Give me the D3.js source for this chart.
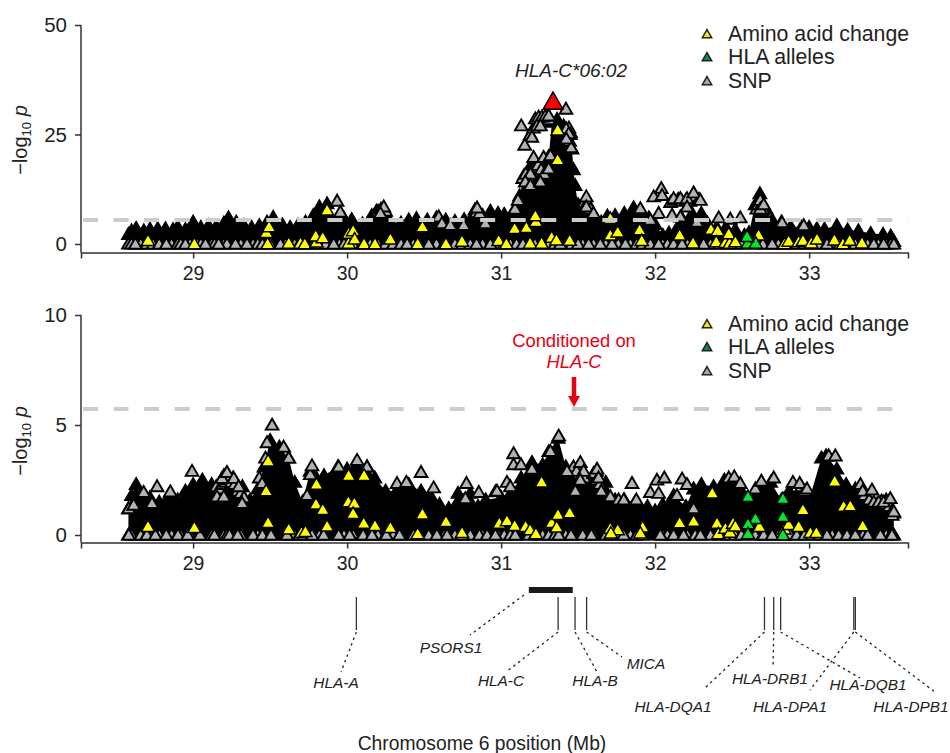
<!DOCTYPE html>
<html><head><meta charset="utf-8">
<script src="https://cdn.jsdelivr.net/npm/d3@7"></script>
<style>html,body{margin:0;background:#fff}svg{display:block}text{font-family:"Liberation Sans",Arial,sans-serif;fill:#222}</style>
</head><body><svg id="c" width="950" height="753"></svg>
<script>
const xTicks=[29,30,31,32,33];
const topYTicks=[0,25,50], bottomYTicks=[0,5,10];
const topThreshold=5.5, bottomThreshold=5.73;
const legendLabels=["Amino acid change","HLA alleles","SNP"];

// upper edge of the solid overlapped marker mass: position (Mb), -log10 p
const topMassMb=[28.58,28.60,28.63,28.68,28.72,28.77,28.82,28.87,28.90,28.95,29.00,29.05,29.10,29.15,29.20,29.23,29.28,29.33,29.38,29.43,29.48,29.52,29.58,29.63,29.68,29.73,29.78,29.82,29.87,29.93,29.98,30.03,30.10,30.16,30.19,30.24,30.28,30.35,30.40,30.45,30.52,30.58,30.64,30.70,30.76,30.83,30.88,30.93,30.98,31.02,31.08,31.12,31.15,31.18,31.21,31.265,31.309,31.33,31.363,31.406,31.45,31.46,31.47,31.48,31.50,31.52,31.56,31.60,31.65,31.69,31.74,31.80,31.86,31.91,31.96,32.00,32.05,32.09,32.14,32.18,32.24,32.30,32.34,32.40,32.46,32.52,32.58,32.61,32.65,32.68,32.72,32.76,32.82,32.88,32.95,33.00,33.05,33.10,33.18,33.25,33.32,33.40,33.48,33.53,33.55];
const topMassP=[2.2,3.0,3.6,3.0,3.4,3.5,3.5,3.3,3.9,3.3,5.0,3.8,4.2,4.0,4.8,6.0,5.0,4.2,3.8,4.2,5.0,6.1,4.4,3.8,4.3,5.0,6.5,8.5,9.2,5.5,5.8,5.6,4.6,6.5,7.5,7.0,5.0,4.8,5.5,5.8,5.5,6.0,5.5,5.2,5.6,7.8,6.5,7.5,7.0,6.8,7.5,11,15.7,17,19,18.7,20,27.8,28.5,27,25.5,21.7,17,13.4,9,7,8,6.5,5.0,6.4,6.5,7,8.3,7.6,6.0,4.5,2.0,2.5,3.5,5.5,7,7,4.8,3.8,3.8,3.3,2.0,2.6,9,11.5,8,5.5,5.0,4.0,3.8,3.8,3.5,3.4,4.2,3.2,3.0,2.4,2.2,1.8,0.6];
const bottomMassMb=[28.58,28.60,28.63,28.66,28.72,28.78,28.85,28.90,28.95,29.00,29.06,29.12,29.20,29.26,29.32,29.37,29.42,29.46,29.50,29.56,29.62,29.66,29.71,29.76,29.80,29.85,29.94,30.00,30.06,30.13,30.18,30.25,30.32,30.40,30.48,30.54,30.60,30.66,30.72,30.80,30.85,30.90,31.00,31.07,31.13,31.20,31.27,31.31,31.37,31.42,31.46,31.50,31.55,31.62,31.68,31.74,31.80,31.87,31.95,32.00,32.05,32.12,32.20,32.25,32.30,32.38,32.45,32.51,32.56,32.60,32.68,32.75,32.82,32.87,32.95,33.00,33.08,33.11,33.18,33.24,33.30,33.38,33.44,33.50,33.55];
const bottomMassP=[1.2,1.8,2.3,1.8,1.7,1.5,1.9,1.6,2.0,2.3,2.5,2.3,2.7,2.6,2.2,1.6,2.1,3.1,4.3,4.0,3.5,2.4,1.5,2.9,2.6,2.7,3.1,3.0,3.2,3.1,2.6,2.0,2.0,2.3,2.0,1.8,1.4,1.2,1.9,1.9,1.3,1.6,1.7,2.0,2.6,3.3,3.2,3.8,4.4,3.1,2.5,2.4,2.3,2.9,2.4,1.6,1.6,1.5,1.3,1.1,1.4,1.8,1.3,2.1,2.3,2.2,2.5,2.5,2.0,1.7,2.1,2.4,1.6,2.0,2.0,1.6,3.5,3.6,3.0,2.3,2.1,1.7,1.4,1.6,1.0];

// SNPs near p = 0, partly hidden by their neighbours
const snpRowHiddenMb=[28.58,28.60,28.66,28.70,28.74,28.78,28.86,28.90,28.92,28.98,29.03,29.05,29.12,29.14,29.20,29.22,29.31,29.39,29.42,29.45,29.50,29.60,29.63,29.66,29.69,29.72,29.78,29.82,29.86,29.95,29.98,30.04,30.10,30.15,30.20,30.25,30.30,30.35,30.43,30.47,30.58,30.63,30.70,30.75,30.80,30.88,30.98,31.02,31.06,31.10,31.18,31.22,31.27,31.31,31.35,31.42,31.46,31.53,31.60,31.68,31.76,31.84,31.88,31.92,32.05,32.08,32.12,32.21,32.26,32.36,32.42,32.47,32.52,32.56,32.65,32.70,32.80,32.84,32.88,32.92,32.97,33.02,33.07,33.15,33.20,33.25,33.30,33.35,33.38,33.45,33.50,33.53,33.55];
const topRowMb=[28.625,28.826,28.95,29.08,29.166,29.275,29.35,29.567,29.913,30.39,30.53,30.84,30.93,31.142,31.384,31.50,31.568,31.644,31.72,31.807,31.969,32.023,32.175,32.315,32.76,33.116,33.42,33.484];
const bottomRowMb=[28.582,28.70,28.755,28.826,28.902,28.965,29.044,29.138,29.236,29.29,29.389,29.45,29.506,29.61,29.772,29.848,29.945,30.017,30.104,30.162,30.255,30.34,30.432,30.53,30.583,30.649,30.746,30.859,30.909,30.963,31.092,31.374,31.454,31.586,31.709,31.796,32.034,32.185,32.294,32.705,32.76,33.116,33.192,33.246,33.30,33.463,33.538];

// overlapping SNPs, mostly hidden, along ridges of the mass
const topHatchMb=[31.19,31.21,31.23,31.25,31.27,31.29,31.31,31.14,31.16,31.18,31.2,31.22,31.24,31.26,31.28,31.44,31.45,31.445,31.455,32.1,32.125,32.15,32.175,32.2,32.225,32.26,32.285,30.2,30.22,30.25,31.54,31.56,31.58,32.66,32.67,32.69,32.7,30.84,30.86,31.09,31.11];
const topHatchP=[25,26.5,27.5,28,28.3,28.5,28.4,15,16,15.5,16.5,17.5,18,17,16,26.5,25,23.5,22,9.5,10,10.2,9.8,10,9.8,10.8,10.2,7.5,8,7.5,9.5,9.5,8,8,9,9,8,7.2,7,8,10];
const bottomHatchMb=[29.15,29.17,29.19,29.21,29.23,29.25,29.27,29.29,29.31,29.33,29.43,29.47,31.47,31.49,31.52,31.54,31.6,31.62,31.64,31.65,33.36,33.39,33.42,33.47,33.5,33.52,33.54,33.54,32.95,32.97];
const bottomHatchP=[2.2,2.1,2.3,2.4,2.5,2.4,2.3,2.0,1.9,1.7,2.6,3.5,3.1,2.9,2.7,2.6,2.8,2.5,2.3,2.0,1.8,1.6,1.5,1.55,1.4,1.3,1.1,0.9,2.2,2.0];

// SNPs standing clear of the mass
const topSnpMb=[29.935,29.956,30.238,30.216,30.595,30.616,30.67,30.757,30.844,30.898,31.131,31.2,31.153,31.222,31.244,31.265,31.287,31.309,31.233,31.255,31.421,31.423,31.439,31.423,31.211,31.276,31.32,31.19,31.157,31.19,31.255,31.309,31.553,31.553,31.6,31.991,32.04,32.045,32.12,32.164,32.207,32.25,32.294,32.207,32.023,31.969,32.11,32.164,32.413,32.488,32.553,32.824,32.965,32.272,31.904,32.683,32.683,32.705];
const topSnpP=[9.8,7.3,8.5,7,6.2,4.7,4.3,4.3,8.25,4.7,27,24.4,22.6,28.6,29,29,29.2,29.3,27,27,30.8,26.3,25.2,24,19.8,19.8,20.2,16,14.2,13.4,14.2,17.2,10.8,8.5,7,10.8,12.7,11.1,10.4,10.4,10.4,11.7,10,8.5,7,5.5,6.6,6.2,6,5.7,6,4.9,4.2,5,8.1,10,8,9];
const bottomSnpMb=[28.582,28.614,28.679,28.733,28.766,28.852,28.993,29.155,29.188,29.199,29.22,29.264,29.296,29.318,29.448,29.48,29.513,29.588,29.621,29.74,29.761,29.772,29.945,30.065,30.129,30.324,30.385,30.48,30.562,30.768,30.775,30.855,30.963,30.973,31.038,31.06,31.081,31.081,31.129,31.2,31.32,31.374,31.428,31.482,31.514,31.536,31.514,31.623,31.633,31.709,31.763,31.796,31.85,31.878,31.969,32.012,32.023,32.06,32.142,32.175,32.207,32.25,32.478,32.514,32.553,32.651,32.69,32.77,32.895,32.939,32.986,33.127,33.17,33.333,33.348,33.408,33.452,33.484,33.527,33.55];
const bottomSnpP=[1.2,1.36,1.94,1.44,2.2,1.97,2.9,1.74,2.58,1.74,2.85,2.58,2.2,1.44,2.35,4.2,5,4,3.5,1.8,2.75,3.15,3.1,3.4,3.1,2.35,2.4,2.85,2.15,1.66,2.35,1.94,1.97,2,2.4,2.2,3.7,3.2,3.2,3,3.8,4.5,2.9,2,3.3,2.9,2.5,3,2.6,1.75,1.6,1.6,2.35,1.6,1.94,2.5,1.9,2.6,1.8,2.55,2.3,1.2,2.6,2.65,2.35,2.1,2.45,2.6,2.4,2.35,2.1,3.6,3.6,2.3,2,2.05,1.5,1.5,1.66,1.06];

const topAminoMb=[28.707,29.008,29.484,29.476,29.493,29.621,29.697,29.725,29.801,29.796,29.842,29.87,30.01,30.01,30.039,30.049,30.11,30.181,30.281,30.458,30.489,30.642,30.746,30.984,31.034,31.088,31.164,31.188,31.226,31.222,31.263,31.328,31.359,31.445,31.367,31.367,31.709,31.757,31.709,31.899,31.913,32.159,32.246,32.363,32.406,32.397,32.456,32.484,32.478,32.521,32.672,32.839,32.867,32.932,32.96,33.014,33.051,33.164,33.22,33.263,33.343];
const topAminoP=[0.76,0,0,2.6,3.9,0.15,0.15,0,0.4,1.8,1.4,7.7,0.15,2.4,3,1.1,0,0,1.1,0,3.9,0,0.6,0.76,0,3.5,3.7,0.15,5.1,6.4,0.15,1.5,0.9,0.8,26,19.2,2,2.7,5.8,3.2,0.76,2,0.2,3.3,3,0.45,0.3,0.15,2.3,0.45,2,0,0.6,0.5,0.76,0.2,1.1,0.9,0,0.8,0.2];
const bottomAminoMb=[28.707,29.008,29.487,29.474,29.487,29.621,29.703,29.729,29.801,29.798,29.842,29.87,30.01,30.008,30.047,30.039,30.11,30.108,30.181,30.281,30.458,30.489,30.642,30.746,30.988,31.038,31.088,31.159,31.188,31.226,31.263,31.328,31.369,31.361,31.445,31.709,31.757,31.713,31.919,31.904,32.159,32.25,32.371,32.402,32.41,32.456,32.486,32.506,32.521,32.677,32.839,32.867,32.932,32.96,33.008,33.047,33.166,33.224,33.267,33.348];
const bottomAminoP=[0.38,0.33,0.56,2,3.36,0.26,0.1,0.15,2.3,1.4,1.15,0.4,2.7,1.5,1.44,0.97,2.7,0.53,0.42,0.33,0.05,0.95,0.6,0.1,0.53,0.64,0.42,0.38,0.23,0.05,2.4,0.56,0.92,0.35,1,0.3,0.23,0.08,0.35,0.08,0.55,0.62,1.9,0.53,0.05,0.3,0.12,0.53,0.4,0.38,0.27,0.47,0.38,1.14,0.1,0.1,2.44,1.3,1.32,0.41];
const topAlleleMb=[32.601,32.653,32.597];
const topAlleleP=[0.15,0.15,1.7];
const bottomAlleleMb=[32.603,32.83,32.651,32.83,32.603,32.603,32.83];
const bottomAlleleP=[1.74,1.65,0.74,0.83,0.5,0.05,0];
const leadSnp=[31.337,32.3];

// gene track
const geneMb=[30.06,31.37,31.48,31.555,32.71,32.77,32.815,33.29,33.30];
const geneBarMb=[31.18,31.465];

const svg=d3.select("#c");
const x=d3.scaleLinear().domain([28.272,33.642]).range([81,908]);
const yTop=d3.scaleLinear().domain([0,50]).range([244,25]);
const yBot=d3.scaleLinear().domain([0,10]).range([535,315]);
const tri=d3.symbol(d3.symbolTriangle,70)();
const triAmino=d3.symbol(d3.symbolTriangle,76)();
const triBig=d3.symbol(d3.symbolTriangle,170)();

function panel(cfg){
  const g=svg.append("g");
  const {y,axisY}=cfg;
  const mass=cfg.massMb.map((m,i)=>({m,p:cfg.massP[i]}));
  g.append("path").datum(mass).attr("fill","#000")
    .attr("d",d3.area().x(d=>x(d.m)).y1(d=>y(d.p)).y0(y(0)+5.5));
  const marks=(mb,ps,fill,shape,sw)=>g.append("g").selectAll("path").data(mb).join("path")
    .attr("d",shape||tri).attr("transform",(d,i)=>`translate(${x(d)},${y(ps?ps[i]:0)+1})`)
    .attr("fill",fill).attr("stroke","#000").attr("stroke-width",sw||1.9);
  marks(cfg.massMb,cfg.massP,"#000");
  marks(snpRowHiddenMb,null,"#b3b3b3");
  marks(cfg.rowMb,null,"#b3b3b3");
  marks(cfg.hatchMb,cfg.hatchP,"#b3b3b3");
  marks(cfg.snpMb,cfg.snpP,"#b3b3b3");
  marks(cfg.aminoMb,cfg.aminoP,"#ffff00",triAmino,1.5);
  marks(cfg.alleleMb,cfg.alleleP,"#00e633",triAmino,1.5);
  if(cfg.lead){
    g.append("path").attr("d",triBig).attr("transform",`translate(${x(cfg.lead[0])},${y(cfg.lead[1])+1})`)
      .attr("fill","#ff0000").attr("stroke","#000").attr("stroke-width",1.5);
  }
  g.append("line").attr("x1",83).attr("x2",908).attr("y1",y(cfg.threshold)).attr("y2",y(cfg.threshold))
    .attr("stroke","#cccccc").attr("stroke-width",4).attr("stroke-dasharray","15 15.55");
  const ax=svg.append("g").attr("transform",`translate(0,${axisY})`)
    .call(d3.axisBottom(x).tickValues(xTicks).tickFormat(d3.format("d")).tickSizeOuter(6).tickSize(6).tickPadding(8));
  ax.selectAll("text").attr("font-size",19.5);
  const ay=svg.append("g").attr("transform","translate(81,0)")
    .call(d3.axisLeft(y).tickValues(cfg.ticks).tickSizeOuter(0).tickSize(6).tickPadding(8));
  ay.selectAll("text").attr("font-size",20.5);
  ay.select(".domain").remove();
  svg.append("line").attr("x1",81).attr("x2",81).attr("y1",y(cfg.ticks[2])).attr("y2",axisY).attr("stroke","#333").attr("stroke-width",1.5);
  svg.selectAll(".domain,.tick line").attr("stroke","#333").attr("stroke-width",1.5);
  const t=svg.append("text").attr("transform",`translate(27,${cfg.titleY}) rotate(-90)`).attr("text-anchor","middle").attr("font-size",20);
  t.append("tspan").text("\u2212log");
  t.append("tspan").attr("font-size",13).attr("dy",4).text("10");
  t.append("tspan").attr("dy",-4).text(" ");
  t.append("tspan").attr("font-style","italic").text("p");
  const cols=["#ffe600","#0b8a46","#a8a8a8"];
  legendLabels.forEach((lab,i)=>{
    const ly=cfg.legendY[i];
    svg.append("path").attr("d",d3.symbol(d3.symbolTriangle,38)()).attr("transform",`translate(707,${ly+1})`)
      .attr("fill",cols[i]).attr("stroke","#222").attr("stroke-width",1.5);
    svg.append("text").attr("x",728).attr("y",ly+7).attr("font-size",21.3).text(lab);
  });
}
panel({y:yTop,axisY:252.5,ticks:topYTicks,threshold:topThreshold,massMb:topMassMb,massP:topMassP,rowMb:topRowMb,hatchMb:topHatchMb,hatchP:topHatchP,snpMb:topSnpMb,snpP:topSnpP,aminoMb:topAminoMb,aminoP:topAminoP,alleleMb:topAlleleMb,alleleP:topAlleleP,lead:leadSnp,titleY:140,legendY:[34,57,81]});
panel({y:yBot,axisY:542.5,ticks:bottomYTicks,threshold:bottomThreshold,massMb:bottomMassMb,massP:bottomMassP,rowMb:bottomRowMb,hatchMb:bottomHatchMb,hatchP:bottomHatchP,snpMb:bottomSnpMb,snpP:bottomSnpP,aminoMb:bottomAminoMb,aminoP:bottomAminoP,alleleMb:bottomAlleleMb,alleleP:bottomAlleleP,titleY:441,legendY:[324,347,371]});

// annotations
svg.append("text").attr("x",571).attr("y",77).attr("text-anchor","middle").attr("font-size",19).attr("font-style","italic").text("HLA-C*06:02");
svg.append("text").attr("x",574).attr("y",347).attr("text-anchor","middle").attr("font-size",18.4).style("fill","#e60012").text("Conditioned on");
svg.append("text").attr("x",574).attr("y",368).attr("text-anchor","middle").attr("font-size",18.4).attr("font-style","italic").style("fill","#e60012").text("HLA-C");
svg.append("line").attr("x1",574).attr("x2",574).attr("y1",377).attr("y2",398).attr("stroke","#e60012").attr("stroke-width",4.5);
svg.append("path").attr("d","M568,396L580,396L574,407Z").attr("fill","#e60012");

// gene track
svg.append("rect").attr("x",x(geneBarMb[0])).attr("width",x(geneBarMb[1])-x(geneBarMb[0])).attr("y",587).attr("height",6).attr("fill","#1a1a1a");
geneMb.forEach(m=>{
  svg.append("line").attr("x1",x(m)).attr("x2",x(m)).attr("y1",597).attr("y2",630).attr("stroke","#333").attr("stroke-width",1.3);
});
const leaders=[[0,341,672],[1,506,672],[2,597,672],[3,622,657],[4,705,688],[5,773,668],[6,860,678],[7,810,690],[8,935,692]];
const dotted=s=>s.attr("stroke","#222").attr("stroke-width",1.3).attr("stroke-dasharray","2.5 3.5");
leaders.forEach(l=>{
  svg.append("line").attr("x1",x(geneMb[l[0]])).attr("y1",632).attr("x2",l[1]).attr("y2",l[2]).call(dotted);
});
svg.append("line").attr("x1",524).attr("y1",595).attr("x2",470).attr("y2",635).call(dotted);
const labels=[["PSORS1",451,653],["HLA-A",336,688],["HLA-C",501,686],["HLA-B",595,686],["MICA",646,669],["HLA-DQA1",673,712],["HLA-DRB1",770,684],["HLA-DQB1",868,690],["HLA-DPA1",790,712],["HLA-DPB1",911,712]];
svg.selectAll(".g").data(labels).join("text").attr("x",d=>d[1]).attr("y",d=>d[2]).attr("text-anchor","middle").attr("font-size",15.4).attr("font-style","italic").text(d=>d[0]);
svg.append("text").attr("x",482).attr("y",749.5).attr("text-anchor","middle").attr("font-size",19.3).text("Chromosome 6 position (Mb)");
</script></body></html>
